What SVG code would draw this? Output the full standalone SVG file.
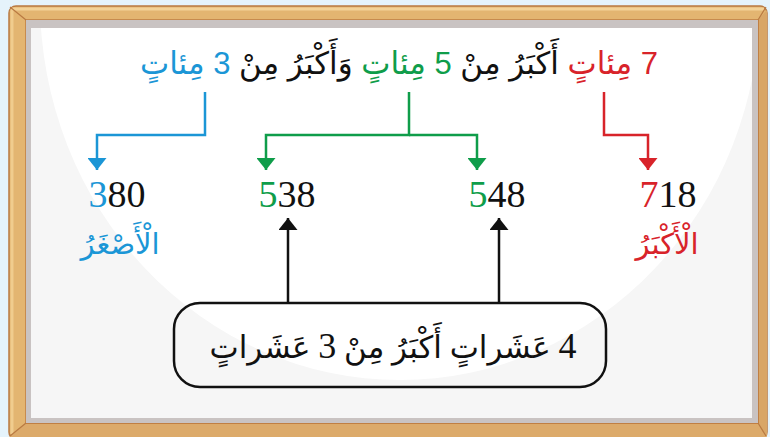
<svg xmlns="http://www.w3.org/2000/svg" width="770" height="437" viewBox="0 0 770 437">
  <style>
    .ar { font-family: "Liberation Sans", "DejaVu Sans", sans-serif; }
    .arS { font-family: "Liberation Serif", "DejaVu Sans", serif; }
    .dig { font-family: "Liberation Serif", serif; }
    .num { font-family: "Liberation Serif", serif; font-size: 38px; text-anchor: middle; }
    .blue { fill: #1b96d6; }
    .green { fill: #0f9d4a; }
    .red { fill: #d8232a; }
    .blk { fill: #111; }
    .con { fill: none; stroke-width: 2.5; }
  </style>
  <defs>
    <clipPath id="boardClip"><rect x="31" y="28" width="721" height="390"/></clipPath>
    <marker id="mBlue" viewBox="0 0 10 10" refX="10" refY="5" markerWidth="12" markerHeight="19" markerUnits="userSpaceOnUse" orient="auto" preserveAspectRatio="none"><path d="M0,0 L10,5 L0,10 Z" fill="#1b96d6"/></marker>
    <marker id="mGreen" viewBox="0 0 10 10" refX="10" refY="5" markerWidth="12" markerHeight="19" markerUnits="userSpaceOnUse" orient="auto" preserveAspectRatio="none"><path d="M0,0 L10,5 L0,10 Z" fill="#0f9d4a"/></marker>
    <marker id="mRed" viewBox="0 0 10 10" refX="10" refY="5" markerWidth="12" markerHeight="19" markerUnits="userSpaceOnUse" orient="auto" preserveAspectRatio="none"><path d="M0,0 L10,5 L0,10 Z" fill="#d8232a"/></marker>
    <marker id="mBlack" viewBox="0 0 10 10" refX="10" refY="5" markerWidth="12" markerHeight="19" markerUnits="userSpaceOnUse" orient="auto" preserveAspectRatio="none"><path d="M0,0 L10,5 L0,10 Z" fill="#111"/></marker>
  </defs>

  <!-- background and frame -->
  <rect x="0" y="0" width="770" height="437" fill="#e5f3fb"/>
  <g id="frame">
    <rect x="9" y="6" width="758" height="433" rx="7" fill="#e3b571" stroke="#b97a42" stroke-width="1.5"/>
    <path d="M12,9 L764,9" stroke="#f3d297" stroke-width="3"/>
    <path d="M12,9 L12,434" stroke="#f0cc8e" stroke-width="3"/>
    <path d="M758,20 L767,10 L767,437 L758,423 Z" fill="#d9a666"/>
    <path d="M26,423 L758,423 L767,437 L9,437 Z" fill="#dcaa6a"/>
    <path d="M26,20 L758,20 M26,20 L26,423" stroke="#c78b4e" stroke-width="2"/>
    <path d="M26,423 L758,423 L758,20" stroke="#c07f43" stroke-width="2" fill="none"/>
    <path d="M10,7 L26,20 M766,7 L758,20 M10,436 L26,423 M766,436 L758,423" stroke="#b97a42" stroke-width="1.2"/>
    <rect x="26" y="20" width="732" height="403" fill="#c9c3c2"/>
    <rect x="31" y="28" width="721" height="390" fill="#f6f6f6"/>
    <ellipse cx="400" cy="0" rx="360" ry="380" fill="#ffffff" clip-path="url(#boardClip)"/>
  </g>

  <!-- connectors -->
  <g id="connectors">
    <path class="con" stroke="#1b96d6" d="M205,92 V135 H97 V170" marker-end="url(#mBlue)"/>
    <path class="con" stroke="#0f9d4a" d="M409,92 V135 H266 V170" marker-end="url(#mGreen)"/>
    <path class="con" stroke="#0f9d4a" d="M409,135 H477 V170" marker-end="url(#mGreen)"/>
    <path class="con" stroke="#d8232a" d="M604,92 V135 H648 V170" marker-end="url(#mRed)"/>
    <path class="con" stroke="#111" d="M288,303 V218" marker-end="url(#mBlack)"/>
    <path class="con" stroke="#111" d="M499,303 V218" marker-end="url(#mBlack)"/>
  </g>

  <!-- title -->
  <g id="title">
    <text class="ar" x="399" y="74" font-size="31" direction="rtl" unicode-bidi="embed" text-anchor="middle"><tspan class="red">7 مِئاتٍ</tspan><tspan class="blk"> أَكْبَرُ مِنْ </tspan><tspan class="green">5 مِئاتٍ</tspan><tspan class="blk"> وَأَكْبَرُ مِنْ </tspan><tspan class="blue">3 مِئاتٍ</tspan></text>
  </g>

  <!-- numbers -->
  <g id="n380"><text class="num" x="117" y="207"><tspan class="blue">3</tspan><tspan class="blk">80</tspan></text></g>
  <g id="n538"><text class="num" x="287" y="207"><tspan class="green">5</tspan><tspan class="blk">38</tspan></text></g>
  <g id="n548"><text class="num" x="497" y="207"><tspan class="green">5</tspan><tspan class="blk">48</tspan></text></g>
  <g id="n718"><text class="num" x="668" y="207"><tspan class="red">7</tspan><tspan class="blk">18</tspan></text></g>

  <!-- labels -->
  <g id="smallest"><text class="ar blue" x="120" y="254" font-size="29" text-anchor="middle" direction="rtl">الْأَصْغَرُ</text></g>
  <g id="largest"><text class="ar red" x="667" y="254" font-size="29" text-anchor="middle" direction="rtl">الْأَكْبَرُ</text></g>

  <!-- bottom box -->
  <g id="tensBox">
    <rect x="174" y="303" width="432" height="84" rx="26" fill="none" stroke="#111" stroke-width="2.5"/>
    <text class="arS blk" x="393" y="358" font-size="31" text-anchor="middle" direction="rtl" unicode-bidi="embed"><tspan class="dig" font-size="36">4</tspan> عَشَراتٍ أَكْبَرُ مِنْ <tspan class="dig" font-size="36">3</tspan> عَشَراتٍ</text>
  </g>
</svg>
